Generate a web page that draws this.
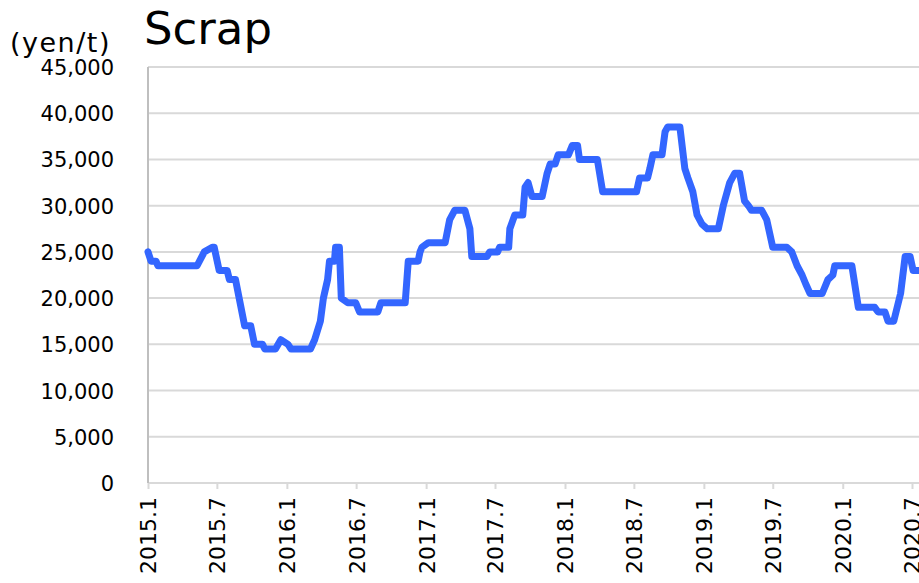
<!DOCTYPE html>
<html>
<head>
<meta charset="utf-8">
<script src="https://cdn.jsdelivr.net/npm/d3@7"></script>
<style>
  body { margin: 0; background: #fff; }
  text { font-family: 'DejaVu Sans', Verdana, sans-serif; fill: #000; }
</style>
</head>
<body>
<div class="workspace"></div>
<script>
// breakpoints: date and price (yen/t)
const dates = [
  '2015-01-01', '2015-01-09', '2015-01-22', '2015-01-27', '2015-05-10', '2015-05-29',
  '2015-06-19', '2015-06-24', '2015-07-07', '2015-07-28', '2015-08-03', '2015-08-19',
  '2015-09-12', '2015-09-28', '2015-10-08', '2015-10-29', '2015-11-04', '2015-12-02',
  '2015-12-16', '2016-01-04', '2016-01-12', '2016-03-03', '2016-03-14', '2016-03-29',
  '2016-04-06', '2016-04-17', '2016-04-22', '2016-05-05', '2016-05-08', '2016-05-18',
  '2016-05-23', '2016-06-09', '2016-06-30', '2016-07-10', '2016-08-27', '2016-09-04',
  '2016-11-07', '2016-11-15', '2016-12-11', '2016-12-16', '2016-12-21', '2017-01-07',
  '2017-02-20', '2017-03-04', '2017-03-17', '2017-04-13', '2017-04-26', '2017-05-01',
  '2017-06-10', '2017-06-17', '2017-07-08', '2017-07-13', '2017-08-06', '2017-08-09',
  '2017-08-22', '2017-09-12', '2017-09-18', '2017-09-26', '2017-10-06', '2017-11-02',
  '2017-11-15', '2017-11-23', '2017-12-06', '2017-12-14', '2018-01-10', '2018-01-20',
  '2018-02-03', '2018-02-08', '2018-03-27', '2018-04-10', '2018-07-08', '2018-07-16',
  '2018-08-06', '2018-08-12', '2018-08-20', '2018-09-13', '2018-09-21', '2018-09-28',
  '2018-10-30', '2018-11-12', '2018-11-20', '2018-12-03', '2018-12-14', '2018-12-27',
  '2019-01-10', '2019-02-08', '2019-02-21', '2019-03-10', '2019-03-23', '2019-04-05',
  '2019-04-18', '2019-04-28', '2019-05-06', '2019-06-02', '2019-06-15', '2019-07-01',
  '2019-08-07', '2019-08-20', '2019-09-03', '2019-09-16', '2019-09-26', '2019-10-07',
  '2019-11-08', '2019-11-23', '2019-12-06', '2019-12-11', '2020-01-25', '2020-02-11',
  '2020-03-25', '2020-04-03', '2020-04-21', '2020-04-29', '2020-05-14', '2020-06-01',
  '2020-06-13', '2020-06-26', '2020-07-04', '2020-08-15'
];
const prices = [
  25000, 24000, 24000, 23500, 23500, 25000,
  25500, 25500, 23000, 23000, 22000, 22000,
  17000, 17000, 15000, 15000, 14500, 14500,
  15500, 15000, 14500, 14500, 15500, 17500,
  20000, 22000, 24000, 24000, 25500, 25500,
  20000, 19500, 19500, 18500, 18500, 19500,
  19500, 24000, 24000, 25000, 25500, 26000,
  26000, 28500, 29500, 29500, 27500, 24500,
  24500, 25000, 25000, 25500, 25500, 27500,
  29000, 29000, 32000, 32500, 31000, 31000,
  33500, 34500, 34500, 35500, 35500, 36500,
  36500, 35000, 35000, 31500, 31500, 33000,
  33000, 34000, 35500, 35500, 38000, 38500,
  38500, 34000, 33000, 31500, 29000, 28000,
  27500, 27500, 30000, 32500, 33500, 33500,
  30500, 30000, 29500, 29500, 28500, 25500,
  25500, 25000, 23500, 22500, 21500, 20500,
  20500, 22000, 22500, 23500, 23500, 19000,
  19000, 18500, 18500, 17500, 17500, 20500,
  24500, 24500, 23000, 23000
];
const yTicks = [0, 5000, 10000, 15000, 20000, 25000, 30000, 35000, 40000, 45000];
const xTickLabels = ['2015.1', '2015.7', '2016.1', '2016.7', '2017.1', '2017.7',
  '2018.1', '2018.7', '2019.1', '2019.7', '2020.1', '2020.7'];

const width = 919;
const height = 583;
const margin = { left: 148, top: 67, bottom: 100 };
const plotBottom = height - margin.bottom;

const parseDate = d3.timeParse('%Y-%m-%d');
const data = dates.map((d, i) => ({ date: parseDate(d), value: prices[i] }));
const tickDates = xTickLabels.map((s) => {
  const [y, m] = s.split('.');
  return new Date(+y, +m - 1, 1);
});

const svg = d3
  .select('.workspace')
  .append('svg')
  .attr('width', width)
  .attr('height', height);

const x = d3
  .scaleTime()
  .domain([tickDates[0], tickDates[tickDates.length - 1]])
  .range([margin.left, 912]);

const y = d3
  .scaleLinear()
  .domain([0, 45000])
  .range([plotBottom, margin.top]);

// horizontal grid lines
svg
  .append('g')
  .selectAll('line')
  .data(yTicks)
  .enter()
  .append('line')
  .attr('x1', margin.left)
  .attr('x2', width + 10)
  .attr('y1', (d) => y(d))
  .attr('y2', (d) => y(d))
  .style('stroke', '#d9d9d9')
  .style('stroke-width', 2);

// left axis line
svg
  .append('line')
  .attr('x1', margin.left)
  .attr('x2', margin.left)
  .attr('y1', margin.top)
  .attr('y2', plotBottom)
  .style('stroke', '#bfbfbf')
  .style('stroke-width', 2);

// y tick labels
svg
  .append('g')
  .selectAll('text')
  .data(yTicks)
  .enter()
  .append('text')
  .attr('x', 114)
  .attr('y', (d) => y(d) + 8)
  .attr('text-anchor', 'end')
  .style('font-size', '21px')
  .text((d) => d3.format(',')(d));

// x axis with tick marks
const xAxis = svg
  .append('g')
  .attr('transform', `translate(0,${plotBottom})`)
  .call(
    d3
      .axisBottom(x)
      .tickValues(tickDates)
      .tickSize(6)
      .tickFormat((d, i) => xTickLabels[i])
  );
xAxis.select('.domain').remove();
xAxis.selectAll('line').style('stroke', '#d9d9d9').style('stroke-width', 2);
xAxis
  .selectAll('text')
  .attr('transform', 'rotate(-90)')
  .attr('text-anchor', 'end')
  .attr('x', -14)
  .attr('y', 0)
  .attr('dy', '0.36em')
  .style('font-size', '22px')
  .style('font-family', "'DejaVu Sans', Verdana, sans-serif");

// price line
const line = d3
  .line()
  .x((d) => x(d.date))
  .y((d) => y(d.value));

svg
  .append('path')
  .datum(data)
  .attr('d', line)
  .style('fill', 'none')
  .style('stroke', '#3366ff')
  .style('stroke-width', 7)
  .style('stroke-linejoin', 'round')
  .style('stroke-linecap', 'round');

// title and unit
svg
  .append('text')
  .attr('x', 144)
  .attr('y', 44)
  .style('font-size', '45px')
  .text('Scrap');

svg
  .append('text')
  .attr('x', 10)
  .attr('y', 52)
  .style('font-size', '27px')
  .style('letter-spacing', '1.5px')
  .text('(yen/t)');
</script>
</body>
</html>
